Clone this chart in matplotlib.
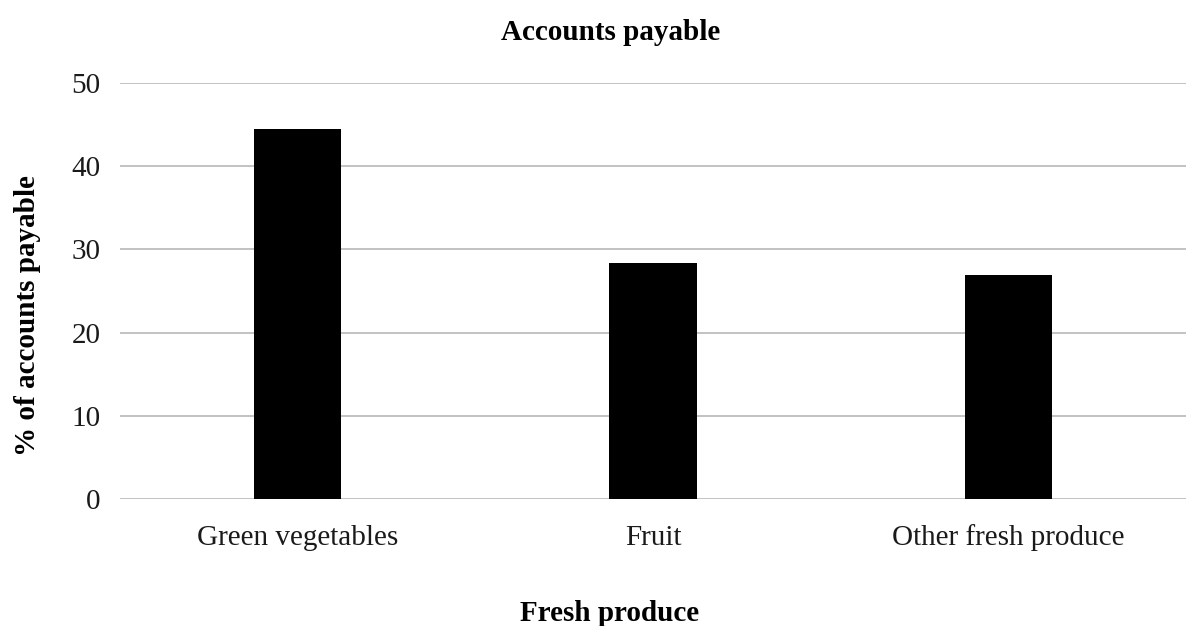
import numpy as np
import matplotlib.pyplot as plt

# values
categories = ["Green vegetables", "Fruit", "Other fresh produce"]
share = [44.5, 28.4, 26.9]
yticks = [0, 10, 20, 30, 40, 50]

plt.rcParams['font.family'] = ['Liberation Serif', 'DejaVu Serif']

W, H = 1186, 626
fig = plt.figure(figsize=(W / 100, H / 100), dpi=100)
ax = fig.add_axes([120 / W, 127 / H, 1066 / W, 416 / H])

x = np.arange(len(categories))
ax.bar(x, share, width=0.245, color='black', zorder=3)

ax.set_xlim(-0.5, len(categories) - 0.5)
ax.set_ylim(0, 50)
ax.set_yticks(yticks)
ax.set_xticks(x)
ax.set_xticklabels(categories)
ax.tick_params(axis='both', length=0, labelsize=21, labelcolor='#1a1a1a')
ax.tick_params(axis='y', pad=14)
ax.tick_params(axis='x', pad=33)
# keep all category names on one baseline
for lab in ax.get_xticklabels():
    lab.set_verticalalignment('baseline')

ax.yaxis.grid(True, color='#bdbdbd', linewidth=1.3, zorder=0)
for s in ax.spines.values():
    s.set_visible(False)

# title and axis titles, placed like in the original
fig.text(611 / W, 1 - 40 / H, "Accounts payable", ha='center', va='baseline',
         fontsize=21, fontweight='bold')
fig.text(610 / W, 1 - 621 / H, "Fresh produce", ha='center', va='baseline',
         fontsize=21, fontweight='bold')
fig.text(28 / W, 1 - 316 / H, "% of accounts payable", ha='center', va='center',
         rotation=90, fontsize=21, fontweight='bold')

fig.savefig("out.png", dpi=100)
